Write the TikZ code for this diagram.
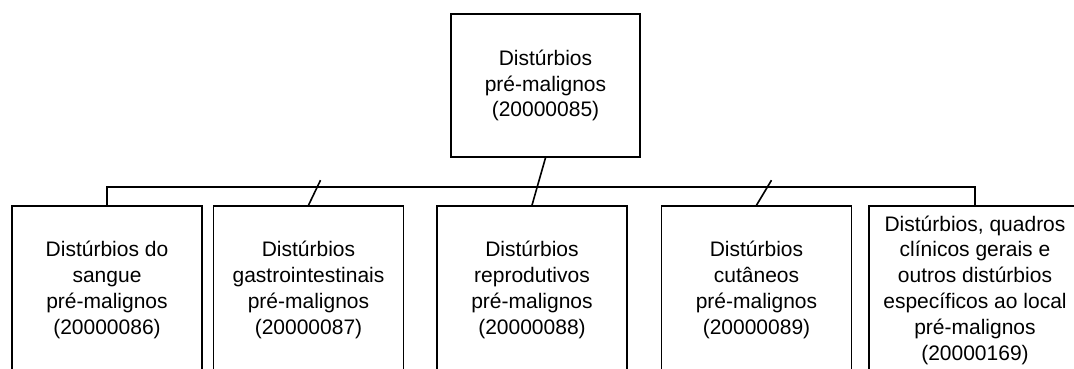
\documentclass[tikz,border=0pt]{standalone}
\usepackage{fontspec}
\setmainfont{Liberation Sans}
\begin{document}
\begin{tikzpicture}[x=1pt,y=-1pt,
  box/.style={draw, line width=1.6pt, rectangle, inner sep=0pt, align=center,
    font=\fontsize{21}{25.8}\selectfont, minimum width=190pt, minimum height=168pt},
  link/.style={line width=1.6pt}]
\useasboundingbox (0,0) rectangle (1074,368);
\clip (0,0) rectangle (1074,368);
\node[box, minimum width=189pt, minimum height=143pt] (top) at (545.5,85.5) {Distúrbios\\pré-malignos\\(20000085)};
\node[box] (b1) at (107,290) {Distúrbios do\\sangue\\pré-malignos\\(20000086)};
\node[box] (b2) at (308.5,290) {Distúrbios\\gastrointestinais\\pré-malignos\\(20000087)};
\node[box] (b3) at (532,290) {Distúrbios\\reprodutivos\\pré-malignos\\(20000088)};
\node[box] (b4) at (756.5,290) {Distúrbios\\cutâneos\\pré-malignos\\(20000089)};
\node[box, minimum width=212pt] (b5) at (975,290) {Distúrbios, quadros\\clínicos gerais e\\outros distúrbios\\específicos ao local\\pré-malignos\\(20000169)};
\coordinate (busL) at (b1.north |- 0,187);
\coordinate (busR) at (b5.north |- 0,187);
\draw[link] (b1.north) -- (busL) -- (busR) -- (b5.north);
\draw[link] (top.south) -- (b3.north);
\coordinate (s2) at ([shift={(12,-25)}]b2.north);
\coordinate (s4) at ([shift={(15,-25)}]b4.north);
\draw[link] (b2.north) -- (s2);
\draw[link] (b4.north) -- (s4);
\end{tikzpicture}
\end{document}
